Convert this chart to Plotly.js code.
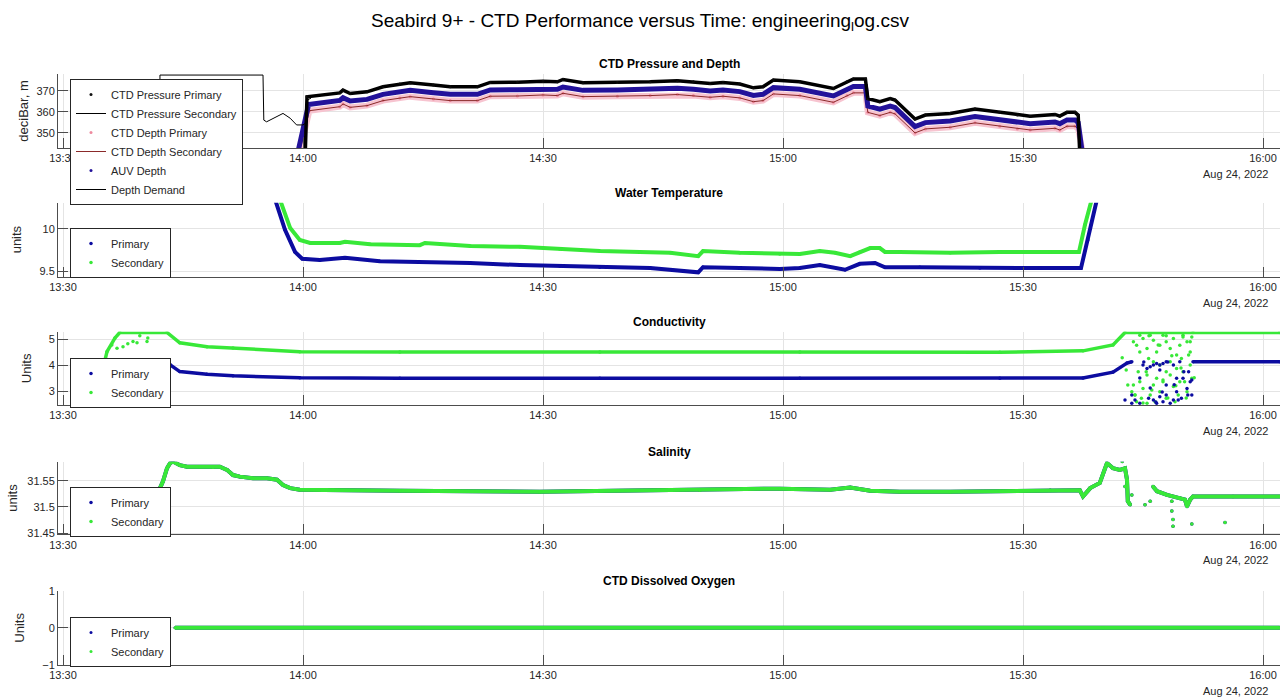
<!DOCTYPE html>
<html><head><meta charset="utf-8">
<script src="https://cdn.plot.ly/plotly-3.0.1.min.js"></script>
<style>html,body{margin:0;padding:0;background:#fff}#chart{width:1280px;height:700px}</style>
</head><body><div id="chart"></div>
<script>
// ---- data (time = minutes after 13:30 on Aug 24, 2022) ----
const tickLabels = ['13:30','14:00','14:30','15:00','15:30','16:00'];
const tickMinutes = [0, 30, 60, 90, 120, 150];

// Panel 1: CTD Pressure and Depth
const pressT = [30.2,30.5,34.6,35.0,35.9,38.0,40.0,42.1,43.4,46.3,48.4,51.8,53.4,56.8,60.0,61.8,62.5,65.0,69.3,73.4,76.8,78.8,80.9,82.5,84.6,86.3,87.5,88.8,92.1,96.3,98.0,98.8,100.3,100.6,102.1,103.4,104.0,106.5,107.8,110.9,114.0,117.1,119.3,120.9,124.0,124.6,125.5,126.5,126.9,127.2];
const pressV = [330,367.1,369.0,370.3,368.7,369.5,371.9,373.2,373.8,372.7,371.9,371.9,374.0,374.1,374.6,374.3,375.4,373.8,374.0,374.3,374.8,374.3,373.5,374.0,373.2,371.4,371.9,375.1,374.3,371.1,374.3,375.6,375.6,366.3,364.8,366.3,365.6,356.5,358.4,359.2,361.3,359.7,358.4,357.9,358.7,357.9,359.7,359.7,358.4,330];
const auvT = [29.2,30.7,34.6,35.0,35.9,38.0,40.0,42.1,43.4,46.3,48.4,51.8,53.4,56.8,60.0,61.8,62.5,65.0,69.3,73.4,76.8,78.8,80.9,82.5,84.6,86.3,87.5,88.8,92.1,96.3,98.0,98.8,100.3,100.6,102.1,103.4,104.0,106.5,107.8,110.9,114.0,117.1,119.3,120.9,124.0,124.6,125.5,126.5,126.9,127.5];
const auvV = [338,363.5,365.4,366.7,365.1,365.9,368.3,369.6,370.2,369.1,368.3,368.3,370.4,370.5,371.0,370.7,371.8,370.2,370.4,370.7,371.2,370.7,369.9,370.4,369.6,367.8,368.3,371.5,370.7,367.5,370.7,372.0,372.0,362.7,361.2,362.7,362.0,352.9,354.8,355.6,357.7,356.1,354.8,354.3,355.1,354.3,356.1,356.1,354.8,338];
const depthT = [29.4,30.8,34.6,35.0,35.9,38.0,40.0,42.1,43.4,46.3,48.4,51.8,53.4,56.8,60.0,61.8,62.5,65.0,69.3,73.4,76.8,78.8,80.9,82.5,84.6,86.3,87.5,88.8,92.1,96.3,98.0,98.8,100.3,100.6,102.1,103.4,104.0,106.5,107.8,110.9,114.0,117.1,119.3,120.9,124.0,124.6,125.5,126.5,126.9,127.6];
const depthV = [338,360.5,362.4,363.7,362.1,362.9,365.3,366.6,367.2,366.1,365.3,365.3,367.4,367.5,368.0,367.7,368.8,367.2,367.4,367.7,368.2,367.7,366.9,367.4,366.6,364.8,365.3,368.5,367.7,364.5,367.7,369.0,369.0,359.7,358.2,359.7,359.0,349.9,351.8,352.6,354.7,353.1,351.8,351.3,352.1,351.3,353.1,353.1,351.8,338];
const demandT = [12.1,12.12,25.0,25.1,25.45,26.7,27.5,28.4,29.2,30.0,30.5,30.55,31.0];
const demandV = [300,377.5,377.5,356.0,355.2,357.6,359.2,356.9,353.7,353.7,355.0,365.6,366.5];

// Panel 2: Water Temperature
const tempPrimT = [26.5,27.75,29.0,29.9,32.1,35.25,39.6,44.6,50.9,57.1,62.1,67.1,73.4,79.4,80.0,84.6,89.6,92.1,94.6,97.75,99.6,101.5,102.75,107.1,114.6,122.1,127.25,128.1,129.25];
const tempPrimV = [10.35,9.99,9.73,9.65,9.635,9.66,9.62,9.61,9.60,9.575,9.565,9.55,9.54,9.49,9.55,9.54,9.53,9.54,9.575,9.52,9.59,9.60,9.55,9.55,9.54,9.54,9.54,9.87,10.35];
const tempSecT = [27.1,28.4,29.6,30.9,34.6,35.25,38.4,44.6,45.25,50.9,57.1,62.1,67.1,72.1,75.9,79.4,80.0,84.6,89.6,92.1,94.6,96.5,98.4,99.6,100.9,102.1,102.75,104.6,110.9,117.1,123.4,127.0,127.75,128.6];
const tempSecV = [10.35,10.01,9.87,9.835,9.835,9.85,9.82,9.81,9.835,9.80,9.79,9.765,9.74,9.73,9.72,9.68,9.74,9.72,9.705,9.705,9.74,9.72,9.68,9.73,9.775,9.775,9.73,9.73,9.72,9.73,9.73,9.73,10.05,10.35];

// Panel 3: Conductivity
const condPrimT = [11.1,12.1,13.4,14.6,18.0,21.25,29.6,42.1,67.1,92.1,117.1,127.5,131.25,133.0,133.6,null,141.25,152.1];
const condPrimV = [3.93,4.09,4.01,3.75,3.65,3.59,3.51,3.49,3.49,3.49,3.49,3.50,3.73,4.08,4.13,null,4.13,4.13];
const condSecT = [3.8,4.6,5.5,6.5,7.1,13.0,14.6,18.0,21.25,29.6,42.1,67.1,92.1,117.1,127.5,131.25,132.75,141.25,152.1];
const condSecV = [2.3,3.36,4.52,5.05,5.26,5.26,4.86,4.71,4.66,4.52,4.51,4.51,4.51,4.50,4.55,4.78,5.26,5.26,5.26];
const condPrimDotsT = [10.9,133.6,134.0,135.0,135.5,135.9,136.3,136.7,137.1,137.5,137.9,138.8,139.6,136.3,136.7,137.1,137.5,137.9,138.4,138.8,139.2,139.8,140.5,140.9,141.1,140.0,140.7,134.6,135.7,137.9,139.2,132.75,133.6,135.1,135.9,136.6,137.4,138.1,138.9,139.4,140.1,140.6,141.1,134.6,137.1];
const condPrimDotsV = [2.5,2.53,2.65,4.00,3.87,3.94,4.00,4.06,4.00,4.06,4.13,4.00,4.13,2.65,2.53,2.78,2.59,2.85,2.53,2.65,2.97,2.72,3.10,3.36,2.85,3.49,3.74,2.53,2.72,3.23,3.49,2.65,2.85,4.12,3.12,2.58,2.96,4.12,3.24,2.65,3.74,2.85,3.43,3.50,3.81];
const condSecDotsT = [6.1,6.75,7.5,8.1,8.75,9.25,9.6,10.5,10.6,133.8,134.2,134.6,135.0,135.5,135.7,135.9,136.3,136.7,137.1,137.5,137.9,138.4,138.8,139.2,139.6,140.0,140.5,140.9,141.1,134.6,135.0,135.5,135.9,136.3,136.7,137.1,137.5,137.9,138.4,138.8,139.2,139.6,140.0,140.5,140.9,133.8,134.0,134.4,134.8,133.6,136.5,137.9,139.4,140.2,141.1,137.1,138.4,136.3,139.8,140.7,139.0,134.2,135.5,132.4,133.1,134.0,134.6,135.4,136.1,136.9,137.5,138.1,138.6,139.1,139.75,140.4,140.9,141.4,132.9,135.75,137.9,140.0,135.0];
const condSecDotsV = [4.78,4.65,4.71,4.82,4.91,4.86,5.13,4.91,5.05,4.90,4.77,5.15,5.03,4.64,4.26,5.15,4.96,4.51,4.77,5.15,4.90,4.64,5.03,4.39,4.77,5.15,4.90,4.51,5.09,3.36,3.10,3.62,2.85,3.23,3.49,2.97,3.36,2.72,3.62,3.17,3.87,3.36,3.74,2.97,4.00,3.23,2.85,3.74,2.72,2.97,2.59,3.74,2.85,3.36,3.49,4.00,4.13,4.13,4.26,4.39,2.59,2.59,2.53,4.28,3.23,2.85,4.51,3.74,3.04,4.78,3.43,2.73,4.36,3.20,3.89,2.73,4.90,3.51,3.81,5.13,5.13,5.09,2.54];

// Panel 4: Salinity
const salT = [11.75,12.1,12.5,13.0,13.4,13.75,14.6,15.5,17.1,18.75,19.6,20.5,21.25,22.1,23.75,25.5,26.75,27.5,28.4,29.6,33.75,42.1,59.6,79.6,89.6,95.9,98.4,100.9,104.6,110.9,117.1,123.4,127.1,127.5,128.4,129.6,130.5,131.25,132.1,132.75,133.0,133.1,133.4,null,136.25,136.75,138.0,139.6,140.25,140.5,140.9,141.25,146.25,152.1];
const salV = [31.523,31.536,31.549,31.574,31.584,31.587,31.580,31.577,31.577,31.576,31.577,31.571,31.561,31.558,31.555,31.555,31.552,31.542,31.536,31.533,31.532,31.531,31.529,31.532,31.535,31.533,31.537,31.531,31.529,31.529,31.530,31.532,31.532,31.520,31.536,31.546,31.584,31.574,31.571,31.574,31.552,31.511,31.504,null,31.539,31.530,31.523,31.517,31.514,31.501,31.514,31.520,31.520,31.520];
const salDotsT = [132.4,132.75,133.6,135.25,135.9,138.6,138.6,138.75,138.75,141.1,145.25];
const salDotsV = [31.587,31.539,31.523,31.504,31.511,31.511,31.492,31.476,31.463,31.467,31.470];

// Panel 5: CTD Dissolved Oxygen
const oxyT = [14.0,45.0,90.0,130.0,152.1];
const oxyV = [0,0,0,0,0];

// ---- helpers ----
const BASE = Date.UTC(2022,7,24,13,30,0);
function fmt(m){ if(m===null) return null; return new Date(BASE + Math.round(m*60000)).toISOString().replace('T',' ').replace('Z',''); }
function T(arr){ return arr.map(fmt); }

const BLUE = '#0c0ca0', GREEN = '#38e838';
const FONT = 'Liberation Sans, Arial, sans-serif';
const H = 700;
const panels = [
  {top:74, bottom:148, range:[342.7,378], ticks:[350,360,370], ytitle:'deciBar, m', title:'CTD Pressure and Depth', standoff:4},
  {top:202.7, bottom:276.5, range:[9.441,10.309], ticks:[9.5,10], ytitle:'units', title:'Water Temperature', standoff:14},
  {top:331.7, bottom:405, range:[2.46,5.29], ticks:[3,4,5], ytitle:'Units', title:'Conductivity', standoff:14},
  {top:461.7, bottom:534.3, range:[31.4475,31.5866], ticks:[31.45,31.5,31.55], ytitle:'units', title:'Salinity', standoff:6},
  {top:590.7, bottom:665, range:[-1,1], ticks:[-1,0,1], ytitle:'Units', title:'CTD Dissolved Oxygen', standoff:14}
];

const traces = [];
function add(o){ traces.push(Object.assign({type:'scatter', hoverinfo:'skip'}, o)); }

// panel 1
add({x:T(depthT), y:depthV, mode:'lines', line:{color:'#f7c4d0', width:6}, showlegend:false, xaxis:'x', yaxis:'y'});
add({x:T(depthT), y:depthV, mode:'markers', marker:{color:'#ee8a9e', size:3}, name:'CTD Depth Primary', legendrank:3, xaxis:'x', yaxis:'y', legend:'legend'});
add({x:T(depthT), y:depthV, mode:'lines', line:{color:'#8b2a2a', width:1}, name:'CTD Depth Secondary', legendrank:4, xaxis:'x', yaxis:'y', legend:'legend'});
add({x:T(auvT), y:auvV, mode:'lines', line:{color:'#23129a', width:5}, showlegend:false, xaxis:'x', yaxis:'y'});
add({x:T(auvT), y:auvV, mode:'markers', marker:{color:'#23129a', size:3}, name:'AUV Depth', legendrank:5, xaxis:'x', yaxis:'y', legend:'legend'});
add({x:T(pressT), y:pressV, mode:'lines', line:{color:'#000', width:3.5}, showlegend:false, xaxis:'x', yaxis:'y'});
add({x:T(pressT), y:pressV, mode:'markers', marker:{color:'#111', size:3}, name:'CTD Pressure Primary', legendrank:1, xaxis:'x', yaxis:'y', legend:'legend'});
add({x:T(pressT), y:pressV, mode:'lines', line:{color:'#000', width:1}, name:'CTD Pressure Secondary', legendrank:2, xaxis:'x', yaxis:'y', legend:'legend'});
add({x:T(demandT), y:demandV, mode:'lines', line:{color:'#000', width:1}, name:'Depth Demand', legendrank:6, xaxis:'x', yaxis:'y', legend:'legend'});

function pair(ax, lg, pT, pV, pDT, pDV, sT, sV, sDT, sDV, w){
  add({x:T(pT), y:pV, mode:'lines', line:{color:BLUE, width:w}, showlegend:false, xaxis:'x'+ax, yaxis:'y'+ax});
  add({x:T(sT), y:sV, mode:'lines', line:{color:GREEN, width:w}, showlegend:false, xaxis:'x'+ax, yaxis:'y'+ax});
  add({x:T(sT.concat(sDT)), y:sV.concat(sDV), mode:'markers', marker:{color:GREEN, size:3.5}, name:'Secondary', legendrank:2, xaxis:'x'+ax, yaxis:'y'+ax, legend:lg});
  add({x:T(pT.concat(pDT)), y:pV.concat(pDV), mode:'markers', marker:{color:BLUE, size:3.5}, name:'Primary', legendrank:1, xaxis:'x'+ax, yaxis:'y'+ax, legend:lg});
}
pair(2,'legend2', tempPrimT, tempPrimV, [], [], tempSecT, tempSecV, [], [], 4);
pair(3,'legend3', condPrimT, condPrimV, condPrimDotsT, condPrimDotsV, condSecT, condSecV, condSecDotsT, condSecDotsV, 3.5);
// salinity: primary is hidden beneath secondary
add({x:T(salT), y:salV, mode:'lines', line:{color:BLUE, width:4}, showlegend:false, xaxis:'x4', yaxis:'y4'});
add({x:T(salT.concat(salDotsT)), y:salV.concat(salDotsV), mode:'markers', marker:{color:BLUE, size:3.5}, name:'Primary', legendrank:1, xaxis:'x4', yaxis:'y4', legend:'legend4'});
add({x:T(salT), y:salV, mode:'lines', line:{color:GREEN, width:4}, showlegend:false, xaxis:'x4', yaxis:'y4'});
add({x:T(salT.concat(salDotsT)), y:salV.concat(salDotsV), mode:'markers', marker:{color:GREEN, size:3.5}, name:'Secondary', legendrank:2, xaxis:'x4', yaxis:'y4', legend:'legend4'});
// oxygen
add({x:T(oxyT), y:oxyV, mode:'lines', line:{color:BLUE, width:4}, showlegend:false, xaxis:'x5', yaxis:'y5'});
add({x:T(oxyT), y:oxyV, mode:'markers', marker:{color:BLUE, size:3}, name:'Primary', legendrank:1, xaxis:'x5', yaxis:'y5', legend:'legend5'});
add({x:T(oxyT), y:oxyV, mode:'lines', line:{color:GREEN, width:4}, showlegend:false, xaxis:'x5', yaxis:'y5'});
add({x:T(oxyT), y:oxyV, mode:'markers', marker:{color:GREEN, size:3}, name:'Secondary', legendrank:2, xaxis:'x5', yaxis:'y5', legend:'legend5'});

// ---- layout ----
const ML = 58, PW = 1280 - ML;
const layout = {
  width:1280, height:700,
  margin:{l:ML, r:0, t:0, b:0, pad:0},
  paper_bgcolor:'#fff', plot_bgcolor:'#fff',
  font:{family:FONT, size:11, color:'#262626'},
  title:{text:'Seabird 9+ - CTD Performance versus Time: engineering<sub>l</sub>og.csv', font:{family:FONT, size:19, color:'#000'}, x:0.5, xref:'container', xanchor:'center', y:1-20/H, yref:'container', yanchor:'middle'},
  annotations:[], showlegend:true
};
const legBase = {x:(70-ML)/PW, xanchor:'left', bgcolor:'#fff', bordercolor:'#262626', borderwidth:1, font:{family:FONT, size:11, color:'#262626'}, tracegroupgap:0, itemwidth:30};
const legY = [[79,'top'],[253,'middle'],[383,'middle'],[512,'middle'],[642,'middle']];
panels.forEach((p,i)=>{
  const n = i===0 ? '' : String(i+1);
  const dom = [1-p.bottom/H, 1-p.top/H];
  layout['xaxis'+n] = {domain:[0,1], anchor:'y'+n, type:'date', range:[fmt(-0.625), fmt(152.125)],
    tickmode:'array', tickvals:tickMinutes.map(fmt), ticktext:tickLabels, ticks:'inside', ticklen:10, tickcolor:'#4d4d4d',
    showline:true, linecolor:'#4d4d4d', linewidth:1, showgrid:true, gridcolor:'#e4e4e4', zeroline:false, mirror:false,
    tickfont:{family:FONT, size:11, color:'#262626'}, fixedrange:true};
  layout['yaxis'+n] = {domain:dom, anchor:'x'+n, range:p.range, tickmode:'array', tickvals:p.ticks, ticks:'inside', ticklen:10, tickcolor:'#4d4d4d',
    showline:true, linecolor:'#4d4d4d', linewidth:1, showgrid:true, gridcolor:'#e4e4e4', zeroline:false,
    tickfont:{family:FONT, size:11, color:'#262626'}, title:{text:p.ytitle, font:{family:FONT, size:13, color:'#262626'}, standoff:p.standoff}, fixedrange:true};
  layout.annotations.push({text:'<b>'+p.title+'</b>', xref:'paper', yref:'paper', x:0.5, y:1-(p.top-10)/H, xanchor:'center', yanchor:'middle', showarrow:false, font:{family:FONT, size:12, color:'#000'}});
  layout.annotations.push({text:'Aug 24, 2022', xref:'paper', yref:'paper', x:(1270-ML)/PW, y:1-(p.bottom+26)/H, xanchor:'right', yanchor:'middle', showarrow:false, font:{family:FONT, size:11, color:'#262626'}});
  layout['legend'+n] = Object.assign({}, legBase, {y:1-legY[i][0]/H, yanchor:legY[i][1]});
});

Plotly.newPlot('chart', traces, layout, {staticPlot:true, displayModeBar:false});
</script></body></html>
